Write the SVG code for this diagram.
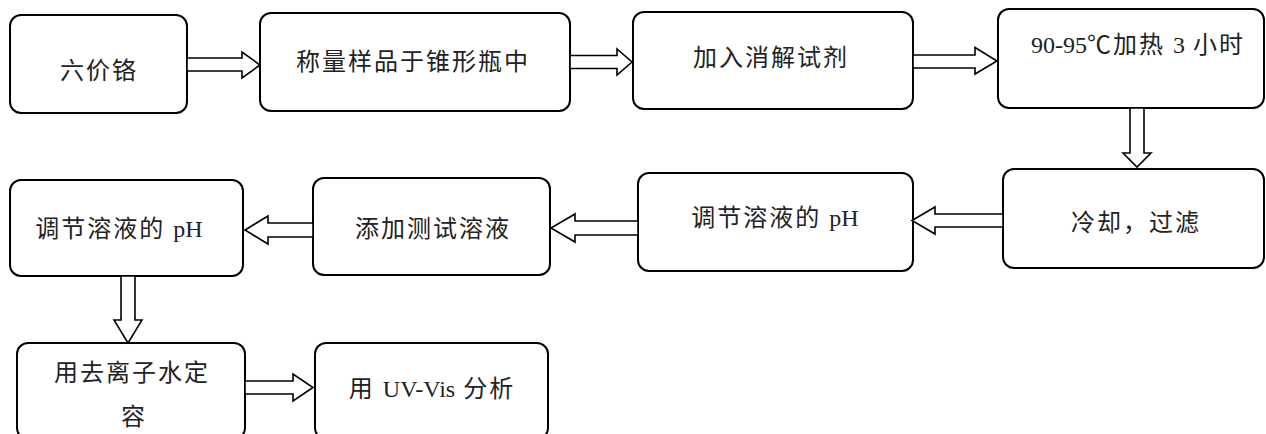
<svg xmlns="http://www.w3.org/2000/svg" width="1266" height="434" viewBox="0 0 1266 434">
<style>
.box{fill:#fff;stroke:#000;stroke-width:2}
.arr{fill:#fff;stroke:#000;stroke-width:1.6;stroke-linejoin:miter}
text{font-family:"Liberation Serif","Noto Sans CJK SC",serif;font-size:24px;fill:#222;text-anchor:middle;letter-spacing:2px}
.l{letter-spacing:0}
</style>
<rect width="1266" height="434" fill="#fff"/>
<g id="n1"><rect class="box" x="10" y="15" width="177" height="98" rx="11"/><text x="99" y="79">六价铬</text></g>
<g id="n2"><rect class="box" x="260" y="13" width="310" height="98" rx="11"/><text x="413" y="70">称量样品于锥形瓶中</text></g>
<g id="n3"><rect class="box" x="633" y="12" width="280" height="97" rx="11"/><text x="771" y="66">加入消解试剂</text></g>
<g id="n4"><rect class="box" x="998" y="9" width="266" height="99" rx="11"/><text x="1138" y="53"><tspan class="l">90-95</tspan>℃加热 <tspan class="l">3</tspan> 小时</text></g>
<g id="n5"><rect class="box" x="1003" y="169" width="261" height="99" rx="11"/><text x="1136" y="231">冷却，过滤</text></g>
<g id="n6"><rect class="box" x="638" y="173" width="275" height="98" rx="11"/><text x="775" y="226">调节溶液的 <tspan class="l">pH</tspan></text></g>
<g id="n7"><rect class="box" x="313" y="178" width="237" height="97" rx="11"/><text x="433" y="237">添加测试溶液</text></g>
<g id="n8"><rect class="box" x="10" y="180" width="233" height="96" rx="11"/><text x="119" y="237">调节溶液的 <tspan class="l">pH</tspan></text></g>
<g id="n9"><rect class="box" x="17" y="343" width="228" height="96" rx="11"/><text x="132" y="381">用去离子水定</text><text x="134" y="425">容</text></g>
<g id="n10"><rect class="box" x="315" y="343" width="233" height="96" rx="11"/><text x="432" y="397">用 <tspan class="l">UV-Vis</tspan> 分析</text></g>
<g id="connectors">
<polygon class="arr" points="187,58 242,58 242,52 260,65 242,78 242,71 187,71"/>
<polygon class="arr" points="570,55.5 617,55.5 617,49 632,62 617,75 617,68.5 570,68.5"/>
<polygon class="arr" points="913,55 975,55 975,47.5 997,61 975,74 975,68 913,68"/>
<polygon class="arr" points="1130,108 1144,108 1144,153 1151,153 1137,167 1123,153 1130,153"/>
<polygon class="arr" points="1003,214 935,214 935,207 912,220.5 935,234 935,227 1003,227"/>
<polygon class="arr" points="638,221 575,221 575,214 551,228 575,242 575,235 638,235"/>
<polygon class="arr" points="313,223 268,223 268,216 245,230 268,244 268,237 313,237"/>
<polygon class="arr" points="121,276 135,276 135,320 142,320 128,343 114,320 121,320"/>
<polygon class="arr" points="245,381 293,381 293,374 313,387.5 293,401 293,394 245,394"/>
</g>
</svg>
